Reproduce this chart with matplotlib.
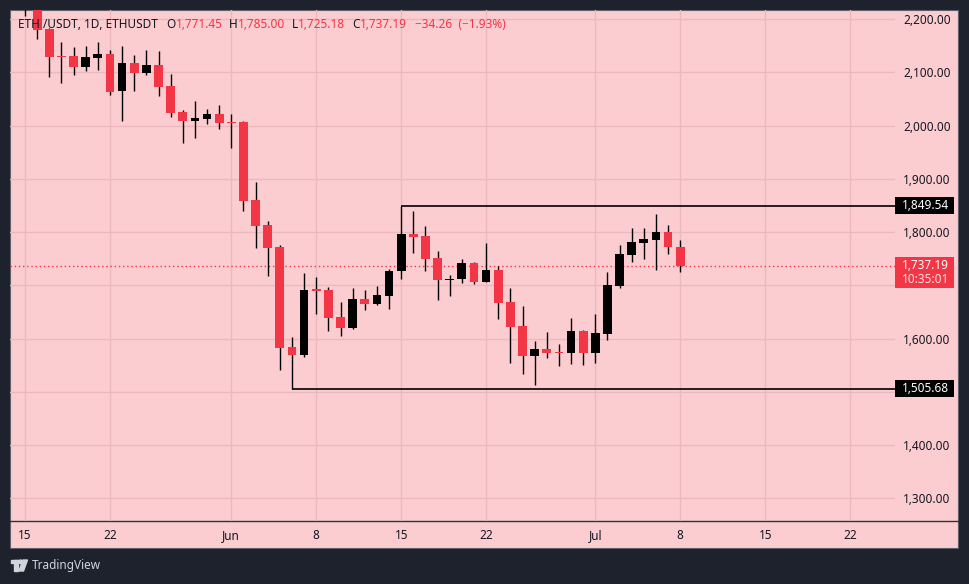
import pandas as pd
import matplotlib.pyplot as plt
import matplotlib.dates as mdates
import matplotlib.transforms as mtransforms
from matplotlib.patches import Rectangle, Circle, Polygon
from matplotlib.lines import Line2D

plt.rcParams['font.family'] = ['Noto Sans', 'DejaVu Sans']

# Daily ETH/USDT candles (15 May - 8 Jul)
opens = [2240, 2228, 2181, 2131, 2130, 2110, 2127, 2134, 2064, 2118, 2099, 2114, 2074, 2025, 2009, 2013, 2022,
         2007, 2006, 1860, 1813, 1772, 1584, 1570, 1692, 1691, 1640, 1620, 1674, 1665, 1680, 1726, 1796, 1793,
         1751, 1710, 1711, 1742, 1707, 1729, 1669, 1624, 1568, 1580, 1575, 1572, 1614,
         1572, 1609, 1699, 1757, 1780, 1786, 1800, 1771.45]
highs = [2262, 2236, 2184, 2157, 2147, 2149, 2157, 2141, 2149, 2132, 2142, 2140, 2097, 2029, 2046, 2031, 2039,
         2022, 2008, 1894, 1821, 1776, 1603, 1723, 1715, 1696, 1669, 1695, 1691, 1699, 1731, 1849.54, 1840, 1811,
         1764, 1719, 1749, 1743, 1779, 1736, 1695, 1661, 1595, 1612, 1590, 1639, 1617,
         1646, 1725, 1776, 1808, 1808, 1834, 1813, 1785.00]
lows = [2206, 2163, 2091, 2079, 2095, 2103, 2105, 2058, 2009, 2064, 2094, 2056, 2017, 1968, 1977, 2003, 1994,
        1957, 1840, 1771, 1718, 1541, 1505.68, 1566, 1647, 1615, 1605, 1618, 1654, 1663, 1656, 1711, 1760, 1726,
        1673, 1680, 1705, 1703, 1706, 1637, 1555, 1534, 1513, 1564, 1549, 1553, 1551,
        1555, 1598, 1695, 1744, 1750, 1729, 1759, 1725.18]
closes = [2228, 2180, 2129, 2129, 2110, 2129, 2134, 2063, 2117, 2099, 2114, 2073, 2024, 2009, 2014, 2022, 2005,
          2005, 1859, 1812, 1771, 1583, 1570, 1691, 1690, 1639, 1620, 1674, 1665, 1682, 1727, 1796, 1791, 1750,
          1710, 1711, 1742, 1707, 1729, 1667, 1622, 1568, 1580, 1573, 1572, 1614, 1572,
          1610, 1700, 1759, 1781, 1787, 1800, 1771.45, 1737.19]

resistance = 1849.54
resistance_from = '2024-06-15'
support = 1505.68
support_from = '2024-06-06'
last_price = 1737.19
countdown = '10:35:01'

price_ticks = [1300, 1400, 1500, 1600, 1700, 1800, 1900, 2000, 2100, 2200]
hidden_ticks = [1500, 1700]  # covered by the price label boxes
date_ticks = ['2024-05-15', '2024-05-22', '2024-06-01', '2024-06-08', '2024-06-15', '2024-06-22',
              '2024-07-01', '2024-07-08', '2024-07-15', '2024-07-22']
date_labels = ['15', '22', 'Jun', '8', '15', '22', 'Jul', '8', '15', '22']

dates = pd.date_range('2024-05-15', periods=len(opens), freq='D')
df = pd.DataFrame({'open': opens, 'high': highs, 'low': lows, 'close': closes}, index=dates)

UP = '#000000'
DOWN = '#f23645'
BG = '#fccdd0'
DARK = '#1e222d'
GRID = '#ebb9bd'
TXT = '#131722'

W, H = 969, 584
fig = plt.figure(figsize=(W / 100, H / 100), dpi=100, facecolor=DARK)
# pixel coordinates, origin at top-left
px = mtransforms.Affine2D().scale(1 / W, -1 / H).translate(0, 1) + fig.transFigure

fig.patches.append(Rectangle((10, 10), 948, 538, transform=px, facecolor=BG,
                             edgecolor='#5d606b', lw=0.8, zorder=-5))
fig.add_artist(Line2D([10, 958], [521, 521], transform=px, color='#2f323c', lw=1, zorder=-4))

ax = fig.add_axes([10 / W, 1 - 521 / H, 885 / W, 511 / H])
ax.set_zorder(2)
ax.set_facecolor('none')
for s in ax.spines.values():
    s.set_visible(False)

x = mdates.date2num(df.index)
up = df['close'] >= df['open']
body_bottom = df[['open', 'close']].min(axis=1)
body_height = (df['close'] - df['open']).abs().clip(lower=2.5)
colors = [UP if u else DOWN for u in up]

ax.vlines(x, df['low'], df['high'], color='black', lw=1.0, zorder=3)
ax.bar(x, body_height, bottom=body_bottom, width=0.72, color=colors, zorder=4)

x0 = mdates.date2num(pd.Timestamp('2024-05-15'))
ax.set_xlim(x0 - 1.24, x0 + 71.7)
ax.set_ylim(1257.4, 2217)

# grid and scales
ax.set_yticks(price_ticks)
ax.set_yticklabels(['' if p in hidden_ticks else '{:,.2f}'.format(p) for p in price_ticks])
ax.set_xticks(mdates.date2num(pd.to_datetime(date_ticks)))
ax.set_xticklabels(date_labels)
ax.grid(True, color=GRID, lw=1, zorder=0)
ax.set_axisbelow(True)
ax.yaxis.tick_right()
ax.tick_params(axis='y', length=0, pad=6, labelsize=8.5, labelcolor=TXT)
ax.tick_params(axis='x', length=0, pad=6, labelsize=8.5, labelcolor=TXT)

# support / resistance and last price line
xr = ax.get_xlim()[1]
ax.hlines(resistance, mdates.date2num(pd.Timestamp(resistance_from)), xr, color='black', lw=1.2, zorder=5)
ax.hlines(support, mdates.date2num(pd.Timestamp(support_from)), xr, color='black', lw=1.2, zorder=5)
ax.axhline(last_price, color=DOWN, ls=(0, (1, 2)), lw=1, zorder=2)

# price labels on the scale
trans = mtransforms.blended_transform_factory(ax.transAxes, ax.transData)
bw = 59 / 885
for level in [resistance, support]:
    ax.add_patch(Rectangle((1.0, level - 16), bw, 32, transform=trans, facecolor='black',
                           clip_on=False, zorder=10))
    ax.text(1 + 7 / 885, level, '{:,.2f}'.format(level), transform=trans, color='white',
            fontsize=8.5, fontweight='bold', va='center', ha='left', zorder=11, clip_on=False)
ax.add_patch(Rectangle((1.0, last_price - 41.5), bw, 58, transform=trans, facecolor=DOWN,
                       clip_on=False, zorder=10))
ax.text(1 + 7 / 885, last_price, '{:,.2f}'.format(last_price), transform=trans, color='white',
        fontsize=8.5, fontweight='bold', va='center', ha='left', zorder=11, clip_on=False)
ax.text(1 + 7 / 885, last_price - 27, countdown, transform=trans, color='#fde3e5',
        fontsize=8.5, fontweight='bold', va='center', ha='left', zorder=11, clip_on=False)

# legend line at top left
last = df.iloc[-1]
prev_close = df['close'].iloc[-2]
chg = last['close'] - prev_close
pieces = [('ETH /USDT, 1D, ETHUSDT', TXT, 0),
          ('O', TXT, 6), ('{:,.2f}'.format(last['open']), DOWN, 0),
          ('H', TXT, 5), ('{:,.2f}'.format(last['high']), DOWN, 0),
          ('L', TXT, 5), ('{:,.2f}'.format(last['low']), DOWN, 0),
          ('C', TXT, 5), ('{:,.2f}'.format(last['close']), DOWN, 0),
          ('{:,.2f}  ({:,.2f}%)'.format(chg, chg / prev_close * 100).replace('-', '\u2212'), DOWN, 6)]
prev = ax.text(18, 24, pieces[0][0], transform=px, color=pieces[0][1], fontsize=8.5,
               va='center', ha='left', zorder=20)
for txt, col, gap in pieces[1:]:
    prev = ax.annotate(txt, xy=(1, 0.5), xycoords=prev, xytext=(gap, 0), textcoords='offset points',
                       color=col, fontsize=8.5, va='center', ha='left', zorder=20)

# TradingView logo
logo = '#d1d4dc'
fig.patches.append(Rectangle((11, 560), 7, 3, transform=px, color=logo))
fig.patches.append(Rectangle((14.5, 560), 3.5, 11, transform=px, color=logo))
fig.patches.append(Circle((20.5, 561.8), 1.8, transform=px, color=logo))
fig.patches.append(Polygon([(23, 560), (27.5, 560), (23.5, 571), (19, 571)], closed=True,
                           transform=px, color=logo))
fig.text(32, 566, 'TradingView', transform=px, color=logo, fontsize=8.5, va='center', ha='left')

fig.savefig('out.png', dpi=100, facecolor=DARK)
